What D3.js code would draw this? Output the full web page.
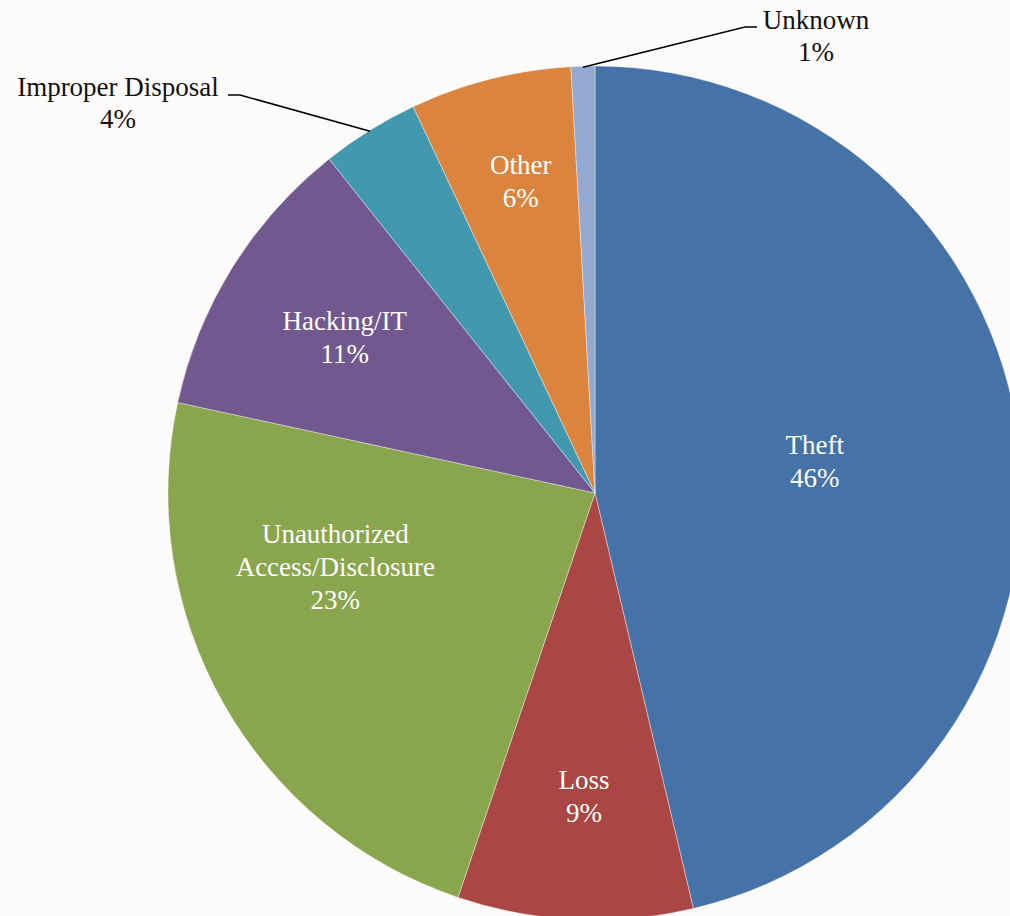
<!DOCTYPE html>
<html>
<head>
<meta charset="utf-8">
<script src="https://cdn.jsdelivr.net/npm/d3@7"></script>
<style>
  html, body { margin: 0; padding: 0; background: #fcfbf9; }
  svg { display: block; }
  .lbl { font-family: "Liberation Serif", "Times New Roman", serif; font-size: 27px; }
</style>
</head>
<body>
<svg id="pie" width="1010" height="916"></svg>
<script>
// breach types, share of records (%)
let categories = ["Theft", "Loss", "Unauthorized Access/Disclosure", "Hacking/IT", "Improper Disposal", "Other", "Unknown"];
let shares = [46.3, 8.9, 23.2, 10.9, 3.7, 6.1, 0.9];
let colors = ["#4572a7", "#aa4643", "#89a54e", "#71588f", "#4198af", "#db843d", "#93a9cf"];

// label layout: radius factor, angle nudge (deg)
let labelLayout = {
  "Theft": [0.52, -1.5],
  "Loss": [0.71, -0.6],
  "Unauthorized Access/Disclosure": [0.632, 13.7],
  "Hacking/IT": [0.69, 0],
  "Other": [0.75, 0.8]
};
let labelLines = {
  "Unauthorized Access/Disclosure": ["Unauthorized", "Access/Disclosure"]
};

let svg = d3.select("#pie"),
    cx = 595, cy = 493, radius = 427;

let g = svg.append("g").attr("transform", "translate(" + cx + "," + cy + ")");

let data = categories.map(function(c, i) { return {name: c, value: shares[i], color: colors[i]}; });

let pie = d3.pie().sort(null).value(function(d) { return d.value; });
let arc = d3.arc().innerRadius(0).outerRadius(radius);
let arcs = pie(data);

g.selectAll("path")
  .data(arcs)
  .enter().append("path")
    .attr("d", arc)
    .attr("fill", function(d) { return d.data.color; })
    .attr("stroke", "#fcfbf9")
    .attr("stroke-width", 0.4);

function polar(r, a) {
  return [r * Math.sin(a), -r * Math.cos(a)];
}

let lineH = 33;

arcs.forEach(function(d) {
  let name = d.data.name;
  let lines = (labelLines[name] || [name]).concat([Math.round(d.data.value) + "%"]);
  let lay = labelLayout[name];
  if (lay) {
    let mid = (d.startAngle + d.endAngle) / 2 + lay[1] * Math.PI / 180;
    let p = polar(radius * lay[0], mid);
    let t = g.append("text").attr("class", "lbl").attr("fill", "#fff").attr("text-anchor", "middle");
    lines.forEach(function(s, i) {
      t.append("tspan").attr("x", p[0])
        .attr("y", p[1] + (i - (lines.length - 1) / 2) * lineH)
        .attr("dy", "0.35em").text(s);
    });
  }
});

// outside labels with leader lines
function outside(name, elbow, tx, ty, side) {
  let d = arcs.find(function(a) { return a.data.name === name; });
  let mid = (d.startAngle + d.endAngle) / 2;
  let p0 = polar(radius - 1, mid);
  let p1 = [elbow[0] - cx, elbow[1] - cy];
  let p2 = [p1[0] + side * 12, p1[1]];
  g.append("polyline")
    .attr("points", [p0, p1, p2].map(function(p) { return p.join(","); }).join(" "))
    .attr("fill", "none").attr("stroke", "#000").attr("stroke-width", 1.5);
  let t = svg.append("text").attr("class", "lbl").attr("fill", "#111").attr("text-anchor", "middle");
  let lines = [name, Math.round(d.data.value) + "%"];
  lines.forEach(function(s, i) {
    t.append("tspan").attr("x", tx).attr("y", ty + i * 32).attr("dy", "0.35em").text(s);
  });
}

outside("Unknown", [745, 27], 816, 20, 1);
outside("Improper Disposal", [240, 95], 118, 87, -1);
</script>
</body>
</html>
